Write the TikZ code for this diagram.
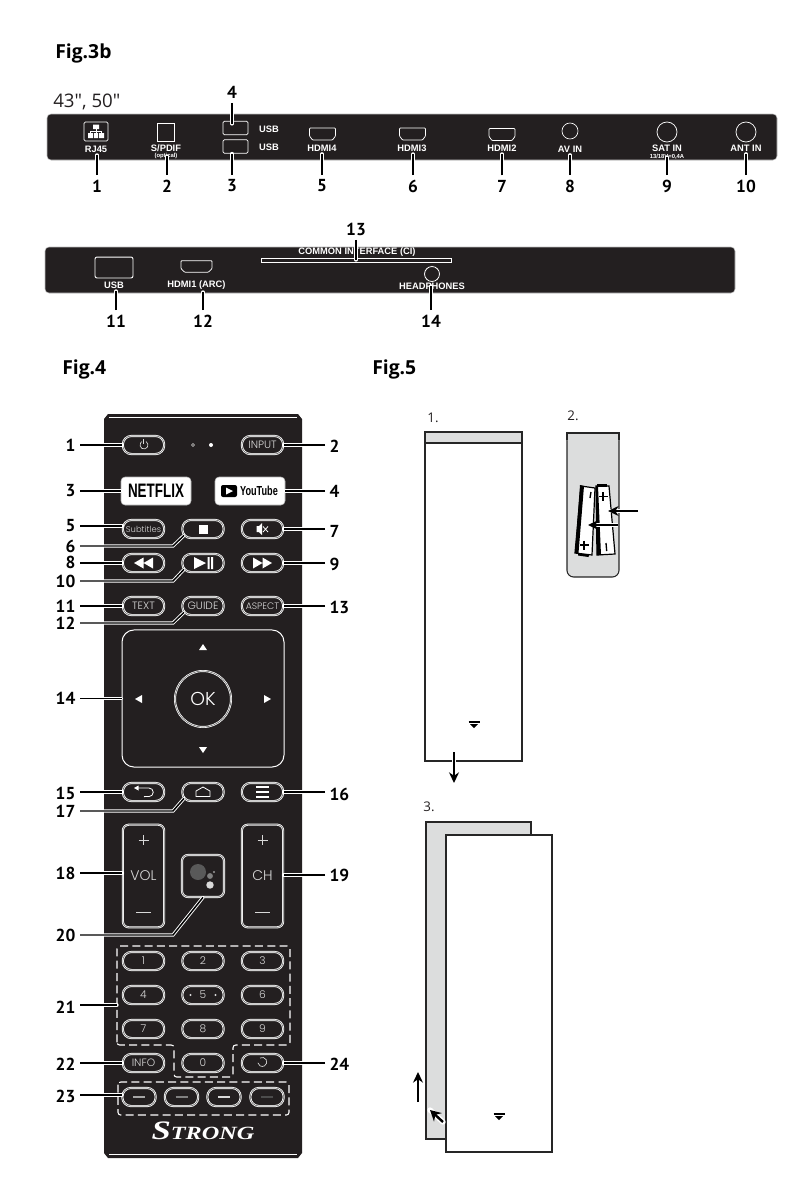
\documentclass[tikz,border=0pt]{standalone}
\usepackage{fontspec}
\usetikzlibrary{arrows.meta}
\setmainfont{Liberation Sans}
\newfontfamily\figf{Open Sans}
\newfontfamily\numf{PT Sans}
\newfontfamily\btnf{Poppins}[UprightFont=* Light]
\newfontfamily\logof{Liberation Serif}
\definecolor{panel}{HTML}{231F20}
\definecolor{cover}{HTML}{DCDDDD}
\definecolor{keytext}{HTML}{D8D8D8}
\newcommand{\fs}[1]{\fontsize{#1}{#1}\selectfont}
\tikzset{
  figlabel/.style={inner sep=0,font=\figf\bfseries\fs{14.5},text=black},
  steplabel/.style={inner sep=0,font=\figf\fs{10},text=panel},
  num/.style={inner sep=0,outer sep=3.5pt,font=\numf\bfseries\fs{13},text=black},
  port/.style={inner sep=0,font=\bfseries\fs{7},text=white},
  portsmall/.style={inner sep=0,font=\bfseries\fs{4.4},text=white},
  panelbox/.style={fill=panel,draw=black!25,line width=.4pt,rounded corners=3pt},
  portline/.style={draw=white,line width=.55pt},
  leader/.style={draw=black,line width=1.1pt,preaction={draw=white,line width=2.5pt,line cap=round}},
  stopshort/.style={shorten >=1.8pt},
  pill/.style={draw=white,double=black!55,line width=.55pt,double distance=.5pt,rounded corners=6.5pt,
    minimum width=31pt,minimum height=13.6pt,inner sep=0,font=\btnf\fs{8},text=keytext},
  brandkey/.style={fill=white,draw=black!30,line width=.4pt,rounded corners=3pt,minimum width=52.5pt,minimum height=21pt,inner sep=0},
  tallkey/.style={draw=white,double=black!55,line width=.55pt,double distance=.5pt,rounded corners=4.5pt,inner sep=0},
  groupline/.style={draw=white,line width=.8pt,dash pattern=on 6pt off 3.2pt,rounded corners=2pt},
  coverbox/.style={draw=black!85,line width=.8pt},
  mvarrow/.style={draw=black,line width=1.1pt,-{Stealth[length=8pt,width=7.5pt]},preaction={draw=white,line width=2.6pt,-}},
  hdmi/.pic={\draw[portline,rounded corners=.6pt] (-13,-6) -- (13,-6) -- (13,2) -- (10,6) -- (-10,6) -- (-13,2) -- cycle;},
  tri/.pic={\draw[black,line width=1pt] (-5.5,-2) -- (5.5,-2); \fill[black] (-4,0) -- (4,0) -- (0,4) -- cycle;}
}
\begin{document}
\begin{tikzpicture}[x=0.75pt,y=-0.75pt]
\useasboundingbox (0,0) rectangle (806,1192);
% ---------- Fig. 3b
\node[figlabel,anchor=west] (f3b) at (55,53) {Fig.3b};
\node[inner sep=0,anchor=west,font=\figf\fs{14},text=panel] (size) at (53,102) {43", 50"};
\draw[panelbox] (47,114) rectangle (777,160);
% RJ45
\node[draw=white,line width=.55pt,rounded corners=1pt,minimum width=18pt,minimum height=14.2pt,inner sep=0] (rjbox) at (96,131.5) {};
\fill[white] (93,124.5) rectangle (99,129) (88,133) rectangle (93,138) (99,133) rectangle (104,138) (94,133) rectangle (98,138);
\draw[white,line width=.5pt] (96,129) -- (96,133) (90.5,133) -- (90.5,131) -- (101.5,131) -- (101.5,133);
\node[port] (lrj) at (96,149) {RJ45};
\node[draw=white,line width=.6pt,minimum width=13.2pt,minimum height=14pt,inner sep=0] (spbox) at (166,132.5) {};
\node[port] (lsp) at (166,148) {S/PDIF};
\node[portsmall] (lopt) at (166,156) {(optical)};
\node[draw=white,line width=.55pt,rounded corners=1pt,minimum width=18.7pt,minimum height=10pt,inner sep=0] (usbt) at (235.5,128) {};
\node[draw=white,line width=.55pt,rounded corners=1pt,minimum width=18.7pt,minimum height=10pt,inner sep=0] (usbb) at (235.5,146.5) {};
\node[port] (lusbt) at (269,129) {USB};
\node[port] (lusbb) at (269,147) {USB};
\pic at (322.5,134) {hdmi};
\node[port] (lh4) at (322,148) {HDMI4};
\pic at (412.5,134) {hdmi};
\node[port] (lh3) at (412,148) {HDMI3};
\pic at (502,134.5) {hdmi};
\node[port] (lh2) at (502,148) {HDMI2};
\node[draw=white,line width=.5pt,circle,minimum size=12pt,inner sep=0] (avc) at (570,131) {};
\node[port] (lav) at (570,149) {AV IN};
\node[draw=white,line width=.55pt,circle,minimum size=15pt,inner sep=0] (satc) at (667,132) {};
\node[port] (lsat) at (667,148) {SAT IN};
\node[portsmall] (lsat2) at (667,157) {13/18V=0,4A};
\node[draw=white,line width=.55pt,circle,minimum size=15pt,inner sep=0] (antc) at (746,132) {};
\node[port] (lant) at (746,148) {ANT IN};
\node[num] (p1) at (97,186) {1};
\node[num] (p2) at (167,186) {2};
\node[num] (p3) at (232,186) {3};
\node[num] (p4) at (232,92) {4};
\node[num] (p5) at (322,186) {5};
\node[num] (p6) at (413,186) {6};
\node[num] (p7) at (502,186) {7};
\node[num] (p8) at (570,186) {8};
\node[num] (p9) at (667,186) {9};
\node[num] (p10) at (746,186) {10};
\draw[leader,stopshort] (p1.north) -- (p1.north |- lrj.south);
\draw[leader] (p2.north) -- (p2.north |- lopt.center);
\draw[leader] (p3.north) -- (p3.north |- usbb.south);
\draw[leader] (p4.south) -- ([yshift=-2.2pt]p4.south |- usbt.north);
\draw[leader,stopshort] (p5.north) -- (p5.north |- lh4.south);
\draw[leader,stopshort] (p6.north) -- (p6.north |- lh3.south);
\draw[leader,stopshort] (p7.north) -- (p7.north |- lh2.south);
\draw[leader,stopshort] (p8.north) -- (p8.north |- lav.south);
\draw[leader] (p9.north) -- (p9.north |- lsat2.center);
\draw[leader,stopshort] (p10.north) -- (p10.north |- lant.south);
% ---------- second panel
\draw[panelbox] (45,247) rectangle (735,293);
\node[draw=white,line width=.7pt,rounded corners=1.5pt,minimum width=28.5pt,minimum height=15.7pt,inner sep=0] (usbs) at (114,267.5) {};
\node[port] (lusbs) at (114,285) {USB};
\pic[yscale=.95,xscale=1.2] at (196.5,266.5) {hdmi};
\node[port] (lh1) at (196.5,285) {HDMI1 (ARC)};
\node[draw=white,line width=.6pt,minimum width=142.5pt,minimum height=3pt,inner sep=0] (slot) at (356,260) {};
\node[port] (lci) at (357,252.5) {COMMON INTERFACE (CI)};
\node[draw=white,line width=.6pt,circle,minimum size=11.2pt,inner sep=0] (hpc) at (432,274) {};
\node[port] (lhp) at (432,286) {HEADPHONES};
\node[num] (q11) at (116,321) {11};
\node[num] (q12) at (203,321) {12};
\node[num] (q13) at (356,229) {13};
\node[num] (q14) at (431,321) {14};
\draw[leader,stopshort] (q11.north) -- (lusbs.south -| q11.north);
\draw[leader,stopshort] (q12.north) -- (lh1.south -| q12.north);
\draw[leader] (q13.south) -- (slot.center -| q13.south);
\draw[leader] (q14.north) -- (lhp.center -| q14.north);
% ---------- Fig. 4 remote
\node[figlabel,anchor=west] (f4) at (62,369) {Fig.4};
\node[figlabel,anchor=west] (f5) at (372,369) {Fig.5};
\fill[panel] (108,414) -- (298,414) -- (302,419) -- (302,1153) -- (298,1158) -- (108,1158) -- (104,1153) -- (104,419) -- cycle;
\draw[white,line width=.5pt] (109,417.5) -- (297,417.5) (109,1154.5) -- (297,1154.5);
% row 1
\node[pill] (pwr) at (143.5,445) {};
\draw[keytext,line width=.5pt] (146,441.5) arc[start angle=60,end angle=-240,radius=3pt];
\draw[keytext,line width=.5pt] (143.5,439) -- (143.5,444);
\node[pill] (inp) at (262.5,445) {INPUT};
\draw[keytext,line width=.4pt] (193,445) circle[radius=1.2pt];
\fill[white] (211,445) circle[radius=1.5pt];
\node[brandkey] (nflx) at (156,491) {\bfseries\fs{14.6}\scalebox{.69}[1]{NETFLIX}};
\node[brandkey] (ytb) at (250,491) {};
\fill[black,rounded corners=1.5pt] (221,485) rectangle (237,497);
\fill[white] (226,487.5) -- (233,491) -- (226,494.5) -- cycle;
\node[inner sep=0,anchor=center,font=\bfseries\fs{9.8},text=black] (yt) at (259,491) {\scalebox{.7}[1]{YouTube}};
% row 3
\node[pill,font=\btnf\fs{6.3}] (subt) at (143.5,529) {Subtitles};
\node[pill] (stp) at (203,529) {};
\fill[white] (198.5,524.5) rectangle (207.5,533.5);
\node[pill] (mut) at (262.5,529) {};
\fill[white] (256.5,526) -- (259,526) -- (262,523) -- (262,535) -- (259,532) -- (256.5,532) -- cycle;
\draw[white,line width=.6pt] (263,526.5) -- (268,532) (268,526.5) -- (263,532);
\node[pill] (rew) at (143.5,563) {};
\fill[white] (134,563) -- (143.5,557.5) -- (143.5,568.5) -- cycle (143.5,563) -- (153,557.5) -- (153,568.5) -- cycle;
\node[pill] (ply) at (203,563) {};
\fill[white] (194,557) -- (206,563) -- (194,569) -- cycle (207.5,557) rectangle (209.5,569) (211,557) rectangle (213,569);
\node[pill] (fwd) at (262.5,563) {};
\fill[white] (253,557.5) -- (262.5,563) -- (253,568.5) -- cycle (262.5,557.5) -- (272,563) -- (262.5,568.5) -- cycle;
\node[pill] (txt) at (143.5,606) {TEXT};
\node[pill] (gde) at (203,606) {GUIDE};
\node[pill,font=\btnf\fs{7}] (asp) at (262.5,606) {ASPECT};
% dpad
\node[tallkey,draw=white,double=none,line width=.75pt,rounded corners=9pt,minimum width=121.5pt,minimum height=102.8pt] (dpad) at (203,698.5) {};
\node[draw=white,double=black!55,line width=.5pt,double distance=.5pt,circle,minimum size=42pt,inner sep=0,font=\btnf\fs{14},text=white] (ok) at (203,699) {OK};
\fill[white] (203,644) -- (207,650) -- (199,650) -- cycle;
\fill[white] (203,753) -- (207,747) -- (199,747) -- cycle;
\fill[white] (135,699) -- (142,695) -- (142,703) -- cycle;
\fill[white] (271,699) -- (264,695) -- (264,703) -- cycle;
% row back
\node[pill] (bck) at (143.5,792) {};
\draw[white,line width=.6pt] (137,788) -- (149,788) arc[start angle=90,end angle=-90,radius=3.2pt] -- (144,796.6);
\fill[white] (134,788) -- (138.5,785.5) -- (138.5,790.5) -- cycle;
\node[pill] (hom) at (203,792) {};
\draw[white,line width=.6pt] (196,791) -- (203,787) -- (210,791) -- (210,796.5) -- (196,796.5) -- cycle;
\node[pill] (mnu) at (262.5,792) {};
\draw[white,line width=1.5pt] (256,787) -- (269,787) (256,792) -- (269,792) (256,797) -- (269,797);
% vol / ch / assistant
\node[tallkey,minimum width=31pt,minimum height=77pt,font=\btnf\fs{10.5},text=keytext] (vol) at (143.5,876) {VOL};
\draw[keytext,line width=.5pt] (138.5,840) -- (148.5,840) (143.5,835) -- (143.5,845) (136,912) -- (151,912);
\node[tallkey,minimum width=31pt,minimum height=77pt,font=\btnf\fs{10.5},text=keytext] (chn) at (262.5,876) {CH};
\draw[keytext,line width=.5pt] (257.5,840) -- (267.5,840) (262.5,835) -- (262.5,845) (255,912) -- (270,912);
\node[tallkey,minimum width=31.5pt,minimum height=31.5pt] (ast) at (203,876) {};
\fill[black!65] (198,872) circle[radius=6pt];
\fill[black!50] (210,876) circle[radius=2.2pt];
\fill[black!15] (210,885) circle[radius=2.8pt];
\fill[black!40] (214,872) circle[radius=.8pt];
% number keys
\node[pill] (k1) at (143.5,961) {1};
\node[pill] (k2) at (203,961) {2};
\node[pill] (k3) at (262.5,961) {3};
\node[pill] (k4) at (143.5,995) {4};
\node[pill] (k5) at (203,995) {5};
\fill[keytext] (190.5,995) circle[radius=.8pt] (215.5,995) circle[radius=.8pt];
\node[pill] (k6) at (262.5,995) {6};
\node[pill] (k7) at (143.5,1029) {7};
\node[pill] (k8) at (203,1029) {8};
\node[pill] (k9) at (262.5,1029) {9};
\node[pill] (inf) at (143.5,1063) {INFO};
\node[pill] (k0) at (203,1063) {0};
\node[pill] (rcl) at (262.5,1063) {};
\draw[keytext,line width=.5pt] (260,1058) arc[start angle=120,end angle=-170,radius=3.4pt];
\node[pill,minimum width=25pt] (red) at (139,1097) {};
\node[pill,minimum width=25pt] (grn) at (181.5,1097) {};
\node[pill,minimum width=25pt] (ylw) at (224,1097) {};
\node[pill,minimum width=25pt] (blu) at (267,1097) {};
\draw[line width=1.3pt,black!35] (133,1097) -- (145,1097);
\draw[line width=1.3pt,black!50] (175.5,1097) -- (187.5,1097);
\draw[line width=1.3pt,black!15] (218,1097) -- (230,1097);
\draw[line width=1.3pt,black!70] (261,1097) -- (273,1097);
\draw[groupline] (117,1045) -- (117,946) -- (290,946) -- (290,1045) -- (233,1045) -- (233,1077) -- (174,1077) -- (174,1045) -- cycle;
\draw[groupline] (118,1082) rectangle (289,1115);
\coordinate (grp) at (117,1005);
\coordinate (grc) at (122,1095);
\node[inner sep=0,text=white,font=\logof\bfseries\itshape] (logo) at (203,1131) {\scalebox{1.3}[1]{{\fs{20}S}{\fs{14}TRONG}}};
% remote labels
\node[num,anchor=east] (r1) at (80,445) {1};
\node[num,anchor=west] (r2) at (325,446) {2};
\node[num,anchor=east] (r3) at (80,491) {3};
\node[num,anchor=west] (r4) at (325,491) {4};
\node[num,anchor=east] (r5) at (80,526) {5};
\node[num,anchor=east] (r6) at (80,546) {6};
\node[num,anchor=west] (r7) at (325,531) {7};
\node[num,anchor=east] (r8) at (80,562) {8};
\node[num,anchor=west] (r9) at (325,564) {9};
\node[num,anchor=east] (r10) at (80,581) {10};
\node[num,anchor=east] (r11) at (80,606) {11};
\node[num,anchor=east] (r12) at (80,623) {12};
\node[num,anchor=west] (r13) at (325,607) {13};
\node[num,anchor=east] (r14) at (80,698) {14};
\node[num,anchor=east] (r15) at (80,793) {15};
\node[num,anchor=west] (r16) at (325,794) {16};
\node[num,anchor=east] (r17) at (80,811) {17};
\node[num,anchor=east] (r18) at (80,873) {18};
\node[num,anchor=west] (r19) at (325,875) {19};
\node[num,anchor=east] (r20) at (80,935) {20};
\node[num,anchor=east] (r21) at (80,1007) {21};
\node[num,anchor=east] (r22) at (80,1064) {22};
\node[num,anchor=east] (r23) at (80,1096) {23};
\node[num,anchor=west] (r24) at (325,1064) {24};
\draw[leader] (r1.east |- pwr.west) -- (pwr.west);
\draw[leader] (r2.west |- inp.east) -- (inp.east);
\draw[leader] (r3.east |- nflx.west) -- (nflx.west);
\draw[leader] (r4.west |- ytb.east) -- (ytb.east);
\draw[leader] (r5.east) -- (subt.west |- r5.east);
\draw[leader] (r6.east) -- (173,546) -- ([shift={(2,-3)}]stp.south west);
\draw[leader] (r7.west |- mut.east) -- (mut.east);
\draw[leader] (r8.east |- rew.west) -- (rew.west);
\draw[leader] (r9.west |- fwd.east) -- (fwd.east);
\draw[leader] (r10.east) -- (173,581) -- ([shift={(2,-3)}]ply.south west);
\draw[leader] (r11.east |- txt.west) -- (txt.west);
\draw[leader] (r12.east) -- (173,623) -- ([shift={(2,-3)}]gde.south west);
\draw[leader] (r13.west |- asp.east) -- (asp.east);
\draw[leader] (r14.east |- dpad.west) -- (dpad.west);
\draw[leader] (r15.east |- bck.west) -- (bck.west);
\draw[leader] (r16.west |- mnu.east) -- (mnu.east);
\draw[leader] (r17.east) -- (173,811) -- ([shift={(2,-3)}]hom.south west);
\draw[leader] (r18.east) -- (vol.west |- r18.east);
\draw[leader] (r19.west) -- (chn.east |- r19.west);
\draw[leader] (r20.east) -- (173,935) -- (ast.south);
\draw[leader] (r21.east |- grp) -- (grp);
\draw[leader] (r22.east |- inf.west) -- (inf.west);
\draw[leader] (r23.east |- grc) -- (grc);
\draw[leader] (r24.west |- rcl.east) -- (rcl.east);
% ---------- Fig. 5
\node[steplabel] (s1) at (433,418) {1.};
\node[steplabel] (s2) at (573,416) {2.};
\node[steplabel] (s3) at (429,807) {3.};
\draw[coverbox,fill=cover] (425,432) rectangle (522,443);
\draw[coverbox,fill=white] (425,443) rectangle (522,761);
\pic at (474,724) {tri};
\coordinate (a1s) at (454,752);
\coordinate (a1e) at (454,783);
\draw[mvarrow] (a1s) -- (a1e);
% step 2
\draw[coverbox,fill=cover,rounded corners=5pt] (567,433) -- (619,433) -- (619,577) -- (567,577) -- cycle;
\fill[cover] (567,433) rectangle (572,440) (619,433) rectangle (614,440);
\draw[coverbox] (567,440) -- (567,433) -- (619,433) -- (619,440);
% right battery
\draw[black,line width=.9pt,fill=white] (596,486) -- (609,486) -- (615,554) -- (597,555) -- cycle;
\fill[black] (597,555) -- (596,486) -- (598,486) -- (601,555) -- cycle;
\fill[black] (597,484) rectangle (607,487);
\draw[black,line width=1pt] (603,492) -- (603,501) (598.5,496.5) -- (607.5,496.5);
\draw[black,line width=1pt] (606,543) -- (606.7,551);
% left battery
\draw[black,line width=.9pt,fill=white] (581,486) -- (595,488) -- (592,555) -- (575,553) -- cycle;
\fill[black] (580,485) -- (584,486) -- (578.5,553) -- (575,553) -- cycle;
\fill[black] (578,553) -- (589,555) -- (588.5,557) -- (578,555.5) -- cycle;
\draw[black,line width=1pt] (584,540.5) -- (584,549.5) (579.5,545) -- (588.5,545);
\draw[black,line width=1pt] (591,492) -- (590,498);
\coordinate (b1s) at (638,511);
\coordinate (b1e) at (608,511);
\coordinate (b2s) at (618,525);
\coordinate (b2e) at (588,525);
\draw[mvarrow] (b1s) -- (b1e);
\draw[mvarrow] (b2s) -- (b2e);
% step 3
\draw[coverbox,fill=cover] (426,822) rectangle (531,1139);
\draw[coverbox,fill=white] (446,835) rectangle (552,1152);
\pic at (499,1116) {tri};
\coordinate (a3s) at (418,1102);
\coordinate (a3e) at (418,1072);
\draw[mvarrow] (a3s) -- (a3e);
\coordinate (ptrt) at (443,1122);
\coordinate (ptrh) at (430,1110);
\draw[white,line width=4pt,line cap=round] (ptrt) -- (ptrh);
\draw[black,line width=1.8pt,-{Stealth[length=8pt,width=8.5pt]}] (ptrt) -- (ptrh);
\end{tikzpicture}
\end{document}
